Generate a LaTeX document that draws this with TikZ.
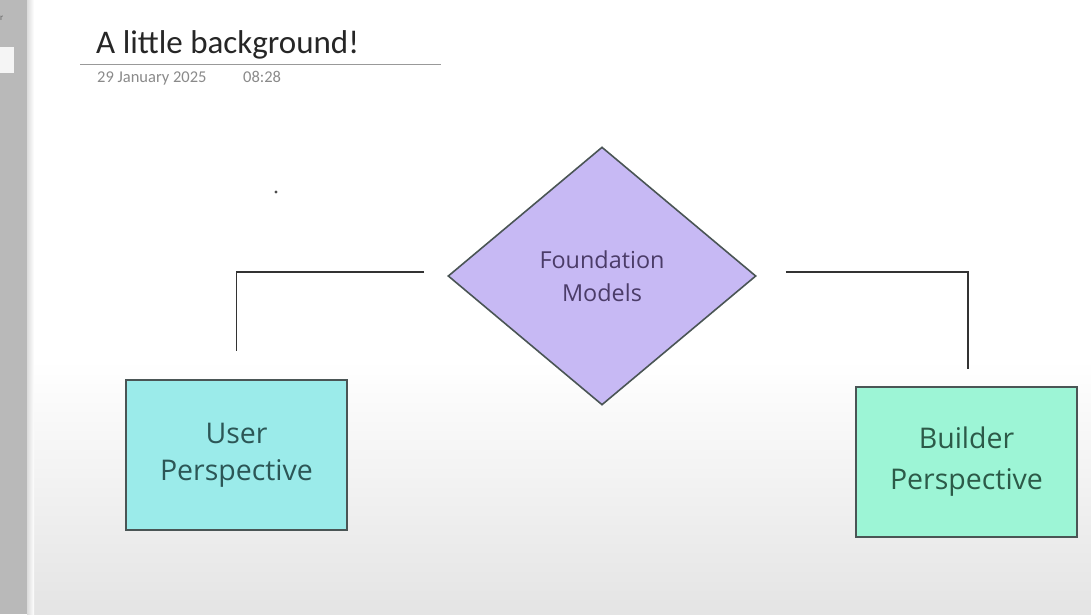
\documentclass[tikz,border=0pt]{standalone}
\usepackage{fontspec}
\setmainfont{Carlito}
\newfontfamily\boxfont{Open Sans}
\usetikzlibrary{shapes.geometric}
\definecolor{stripgray}{HTML}{B9B9B9}
\definecolor{stripedge}{HTML}{DCDCDC}
\definecolor{bottomgray}{HTML}{E4E4E4}
\definecolor{diafill}{HTML}{C7B9F4}
\definecolor{diatext}{HTML}{4B3C68}
\definecolor{userfill}{HTML}{9BEBEA}
\definecolor{usertext}{HTML}{2C5656}
\definecolor{buildfill}{HTML}{9DF5D6}
\definecolor{buildtext}{HTML}{2C5A48}
\definecolor{outline}{HTML}{4A5555}
\definecolor{titletext}{HTML}{262626}
\definecolor{datetext}{HTML}{8A8A8A}
\tikzset{
  persbox/.style={draw=outline, line width=1.6pt, minimum width=221pt, minimum height=150pt, align=center, inner sep=0pt, font=\boxfont\fontsize{28.5}{37}\selectfont},
  connector/.style={draw=black!80, line width=1.6pt},
}
\begin{document}
\begin{tikzpicture}[x=1pt,y=-1pt]
\useasboundingbox (0,0) rectangle (1091,614);
% background
\fill[white] (0,0) rectangle (1091,614);
\shade[top color=white, bottom color=bottomgray] (27,360) rectangle (1091,614);
\fill[stripgray] (0,0) rectangle (27,614);
\shade[left color=stripedge, right color=white] (27,0) rectangle (34,614);
\fill[white!85!stripgray] (0,47) rectangle (14,73);
\node[anchor=base west, inner sep=0pt, text=black!60, font=\fontsize{9}{9}\selectfont] (sideletter) at (0,20) {r};
% header
\node[anchor=base west, inner sep=0pt, text=titletext, font=\fontsize{33}{33}\selectfont] (title) at (96,53) {A little background!};
\draw[black!40, line width=1pt] (80,64) -- (441,64);
\node[anchor=base west, inner sep=0pt, text=datetext, font=\fontsize{16.5}{16.5}\selectfont] (date) at (97,82) {29 January 2025};
\node[anchor=base west, inner sep=0pt, text=datetext, font=\fontsize{16.5}{16.5}\selectfont] (time) at (243,82) {08:28};
\fill[black!70] (276,192) circle (1.6pt);
% diamond
\node[diamond, draw=outline, line width=1.6pt, fill=diafill, minimum width=308pt, minimum height=258pt, inner sep=0pt, align=center, text=diatext, font=\boxfont\fontsize{23.4}{33}\selectfont] (fm) at (602,276) {Foundation\\Models};
% boxes
\node[persbox, fill=userfill, text=usertext] (user) at (236.5,455) {User\\Perspective};
\node[persbox, fill=buildfill, text=buildtext, font=\boxfont\fontsize{28.5}{41}\selectfont] (builder) at (966.5,462) {Builder\\Perspective};
% connectors
\coordinate (lstart) at ([xshift=-23pt,yshift=4pt]fm.west);
\coordinate (lend) at ([yshift=28pt]user.north);
\coordinate (rstart) at ([xshift=29pt,yshift=4pt]fm.east);
\coordinate (rend) at ([xshift=1.5pt,yshift=17pt]builder.north);
\draw[connector] (lstart) -- (lstart -| lend) -- (lend);
\draw[connector] (rstart) -- (rstart -| rend) -- (rend);
\end{tikzpicture}
\end{document}
